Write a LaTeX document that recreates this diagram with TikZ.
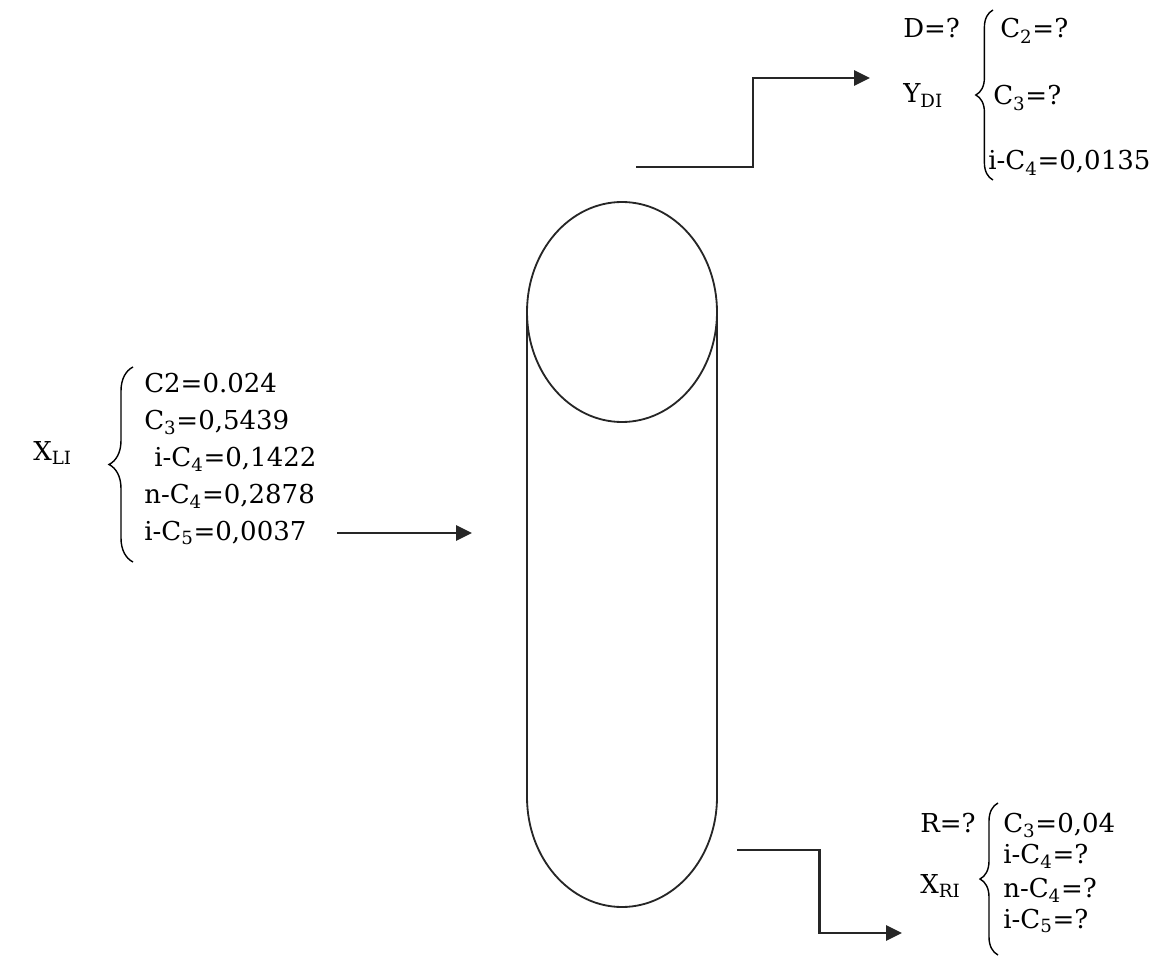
\documentclass[tikz,border=0pt]{standalone}
\usepackage{fontspec}
\setmainfont{DejaVu Serif}
\usetikzlibrary{arrows.meta, decorations.pathreplacing, calc}

\begin{document}
\begin{tikzpicture}[
    x=0.025cm, y=-0.025cm,
    font=\fontsize{18.5}{22}\selectfont,
    txt/.style={anchor=base west, inner sep=0pt},
    vessel/.style={line width=1.3pt, draw=black!85},
    stream/.style={line width=1.6pt, draw=black!85, -{Triangle[length=4mm, width=3.8mm]}},
    curly/.style={decorate, decoration={brace, amplitude=#1}, line width=1pt}
]
\useasboundingbox (0,0) rectangle (1162,957);

% Column: top ellipse, shell and rounded bottom
\draw[vessel] (622,312) ellipse [x radius=95, y radius=110];
\draw[vessel] (527,312) -- (527,797)
    arc[start angle=180, end angle=0, x radius=95, y radius=110] -- (717,312);

% Stream end points
\coordinate (feedsrc) at (337,533);
\coordinate (feed)    at (472,533);
\coordinate (vapor)   at (636,167);
\coordinate (dist)    at (870,78);
\coordinate (liquid)  at (737,850);
\coordinate (resid)   at (902,933);

% Feed composition
\node[txt] (xli)  at (33,460)  {X\textsubscript{LI}};
\draw[curly=6mm] (133,562) -- (133,367);
\node[txt] (fc2)  at (144,392) {C2=0.024};
\node[txt] (fc3)  at (144,429) {C\textsubscript{3}=0,5439};
\node[txt] (fic4) at (154,466) {i-C\textsubscript{4}=0,1422};
\node[txt] (fnc4) at (144,503) {n-C\textsubscript{4}=0,2878};
\node[txt] (fic5) at (144,540) {i-C\textsubscript{5}=0,0037};

% Distillate
\node[txt] (dq)   at (903,38)  {D=?};
\node[txt] (ydi)  at (903,103) {Y\textsubscript{DI}};
\draw[curly=4.3mm] (993,180) -- (993,10);
\node[txt] (dc2)  at (1000,38) {C\textsubscript{2}=?};
\node[txt] (dc3)  at (993,105) {C\textsubscript{3}=?};
\node[txt] (dic4) at (988,170) {i-C\textsubscript{4}=0,0135};

% Residue
\node[txt] (rq)   at (920,832)  {R=?};
\node[txt] (xri)  at (920,893)  {X\textsubscript{RI}};
\draw[curly=4.5mm] (998,955) -- (998,803);
\node[txt] (rc3)  at (1003,832) {C\textsubscript{3}=0,04};
\node[txt] (ric4) at (1003,863) {i-C\textsubscript{4}=?};
\node[txt] (rnc4) at (1003,897) {n-C\textsubscript{4}=?};
\node[txt] (ric5) at (1003,928) {i-C\textsubscript{5}=?};

% Streams
\draw[stream] (feedsrc) -- (feed);
\draw[stream] (vapor)  -| ($(vapor)!.5!(dist)$)   |- (dist);
\draw[stream] (liquid) -| ($(liquid)!.5!(resid)$) |- (resid);

\end{tikzpicture}
\end{document}
